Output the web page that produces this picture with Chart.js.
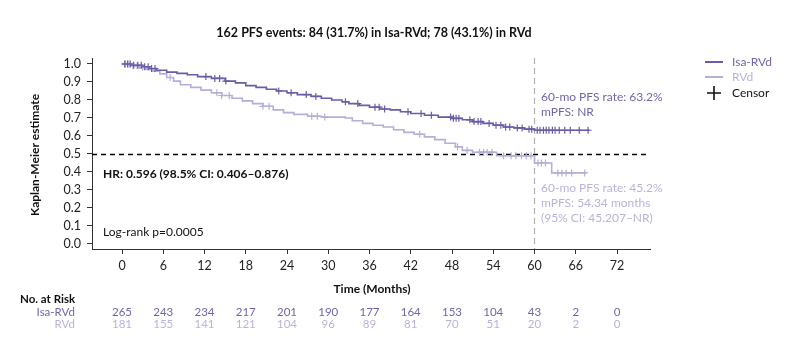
<!DOCTYPE html>
<html>
<head>
<meta charset="utf-8">
<script src="https://cdn.jsdelivr.net/npm/chart.js@4.4.1/dist/chart.umd.min.js"></script>
<style>
  body { margin: 0; background: #fff; }
  .wrap { width: 800px; height: 354px; }
</style>
</head>
<body>
<div class="wrap"><canvas id="kmChart" width="800" height="354"></canvas></div>
<script>
// axis ticks
const monthTicks = [0, 6, 12, 18, 24, 30, 36, 42, 48, 54, 60, 66, 72];
const survTicks = [0, 0.1, 0.2, 0.3, 0.4, 0.5, 0.6, 0.7, 0.8, 0.9, 1.0];

// KM steps (time in months, survival after the drop)
const isaTimes = [0, 1.5, 3, 4, 5, 6.5, 8, 9.5, 11, 13, 15, 16.5, 18, 19.5, 21, 22.5, 24, 25.5, 27.5, 29, 30.5, 32, 33, 34.5, 36, 37.5, 39, 40.5, 42, 44, 46, 48, 49.5, 51, 52.5, 54, 55.5, 57, 58.5, 60, 68];
const isaSurv  = [1.0, 0.993, 0.985, 0.975, 0.965, 0.955, 0.948, 0.94, 0.93, 0.92, 0.905, 0.895, 0.88, 0.87, 0.86, 0.85, 0.84, 0.83, 0.82, 0.81, 0.80, 0.79, 0.78, 0.77, 0.76, 0.75, 0.745, 0.735, 0.725, 0.715, 0.705, 0.698, 0.69, 0.68, 0.67, 0.66, 0.65, 0.645, 0.638, 0.632, 0.632];

const rvdTimes = [0, 1.5, 2.5, 3.5, 4.5, 5.5, 6.5, 7.5, 8.5, 10, 11.5, 13, 14.5, 16, 17.5, 19, 20.5, 22, 23.5, 25, 27, 29, 32.5, 33.5, 35, 36.5, 38, 39.5, 41, 42.5, 44, 45.5, 47, 48.5, 49.5, 51, 54.5, 60, 62.5, 67.5];
const rvdSurv  = [1.0, 0.99, 0.98, 0.97, 0.96, 0.945, 0.925, 0.905, 0.885, 0.87, 0.855, 0.84, 0.825, 0.81, 0.795, 0.78, 0.765, 0.745, 0.73, 0.72, 0.71, 0.705, 0.70, 0.685, 0.67, 0.66, 0.65, 0.635, 0.62, 0.61, 0.595, 0.58, 0.56, 0.54, 0.52, 0.51, 0.49, 0.45, 0.395, 0.395];

// censor times
const isaCensor = [0.4, 0.8, 1.2, 1.7, 2.3, 2.8, 3.3, 3.8, 4.3, 4.8, 12.2, 13.5, 14.2, 15.1, 22.8, 24.6, 26.8, 28.2, 32.5, 34.3, 36.8, 37.4, 38.2, 41.6, 43.5, 45.0, 47.8, 48.2, 48.6, 49.0, 50.6, 51.2, 51.8, 52.2, 53.4, 54.4, 55.1, 55.8, 56.4, 57.5, 58.2, 59.2, 59.6, 60.4, 60.8, 61.3, 61.7, 62.1, 62.6, 63.0, 63.6, 64.4, 65.2, 66.5, 67.8];
const rvdCensor = [0.5, 1.0, 1.6, 2.2, 3.0, 7.0, 13.8, 14.5, 15.6, 20.5, 21.4, 27.6, 28.4, 29.5, 43.3, 48.8, 50.2, 52.0, 52.6, 53.1, 53.8, 55.5, 56.6, 57.3, 58.1, 58.8, 59.5, 60.5, 61.0, 61.6, 63.4, 64.0, 64.6, 65.4, 67.3];

// numbers at risk
const riskIsa = [265, 243, 234, 217, 201, 190, 177, 164, 153, 104, 43, 2, 0];
const riskRvd = [181, 155, 141, 121, 104, 96, 89, 81, 70, 51, 20, 2, 0];

const darkColor = "#675ea6";
const lightColor = "#b4aed8";
const darkText = "#6f67aa";
const lightText = "#b9b3da";
const FONT = "Lato";

function survAt(times, surv, t) {
  let s = surv[0];
  for (let i = 0; i < times.length; i++) {
    if (times[i] <= t) s = surv[i];
  }
  return s;
}

function toPoints(times, surv) {
  return times.map((t, i) => ({ x: t, y: surv[i] }));
}

function censorPoints(cens, times, surv) {
  return cens.map((t) => ({ x: t, y: survAt(times, surv, t) }));
}

// dashed reference lines
const refLines = {
  id: "refLines",
  beforeDatasetsDraw(chart) {
    const { ctx, chartArea, scales } = chart;
    ctx.save();
    ctx.lineWidth = 1.3;
    ctx.setLineDash([5, 4]);
    ctx.strokeStyle = "#000";
    let y = Math.round(scales.y.getPixelForValue(0.5)) + 0.5;
    ctx.beginPath();
    ctx.moveTo(chartArea.left, y);
    ctx.lineTo(chartArea.right, y);
    ctx.stroke();

    ctx.lineWidth = 1.2;
    ctx.strokeStyle = "#b0b0b0";
    ctx.setLineDash([6, 4]);
    let x = scales.x.getPixelForValue(60);
    ctx.beginPath();
    ctx.moveTo(x, chartArea.top);
    ctx.lineTo(x, chartArea.bottom);
    ctx.stroke();
    ctx.restore();
  }
};

// titles, notes, legend and the at-risk table
const textLayer = {
  id: "textLayer",
  afterDraw(chart) {
    const { ctx, scales } = chart;
    ctx.save();
    ctx.textBaseline = "middle";

    ctx.fillStyle = "#111";
    ctx.font = "bold 12.5px " + FONT;
    ctx.textAlign = "center";
    ctx.fillText("162 PFS events: 84 (31.7%) in Isa-RVd; 78 (43.1%) in RVd", 374, 33);
    ctx.font = "bold 12px " + FONT;
    ctx.fillText("Time (Months)", 372, 289);

    ctx.save();
    ctx.translate(35, 155);
    ctx.rotate(-Math.PI / 2);
    ctx.fillText("Kaplan-Meier estimate", 0, 0);
    ctx.restore();

    ctx.textAlign = "left";
    ctx.fillText("HR: 0.596 (98.5% CI: 0.406\u20130.876)", 103, 174);
    ctx.font = "12px " + FONT;
    ctx.fillText("Log-rank p=0.0005", 103, 232);

    // notes next to the 60 month line
    ctx.fillStyle = darkText;
    ctx.fillText("60-mo PFS rate: 63.2%", 541, 97);
    ctx.fillText("mPFS: NR", 541, 112);
    ctx.fillStyle = lightText;
    ctx.fillText("60-mo PFS rate: 45.2%", 541, 188);
    ctx.fillText("mPFS: 54.34 months", 541, 203);
    ctx.fillText("(95% CI: 45.207\u2013NR)", 541, 218);

    // legend
    ctx.lineWidth = 2;
    ctx.strokeStyle = darkColor;
    ctx.beginPath(); ctx.moveTo(705, 62); ctx.lineTo(723, 62); ctx.stroke();
    ctx.strokeStyle = lightColor;
    ctx.beginPath(); ctx.moveTo(705, 77); ctx.lineTo(723, 77); ctx.stroke();
    ctx.strokeStyle = "#111";
    ctx.lineWidth = 1.6;
    ctx.beginPath();
    ctx.moveTo(707, 93); ctx.lineTo(721, 93);
    ctx.moveTo(714, 86); ctx.lineTo(714, 100);
    ctx.stroke();
    ctx.fillStyle = darkText;
    ctx.fillText("Isa-RVd", 732, 62);
    ctx.fillStyle = lightText;
    ctx.fillText("RVd", 732, 77);
    ctx.fillStyle = "#111";
    ctx.fillText("Censor", 732, 93);

    // at-risk table
    ctx.font = "bold 11.5px " + FONT;
    ctx.fillText("No. at Risk", 20, 299);
    ctx.font = "11.5px " + FONT;
    ctx.textAlign = "right";
    ctx.fillStyle = darkText;
    ctx.fillText("Isa-RVd", 75, 312);
    ctx.fillStyle = lightText;
    ctx.fillText("RVd", 75, 324);
    ctx.textAlign = "center";
    monthTicks.forEach((m, i) => {
      let x = scales.x.getPixelForValue(m);
      ctx.fillStyle = darkText;
      ctx.fillText(String(riskIsa[i]), x, 312);
      ctx.fillStyle = lightText;
      ctx.fillText(String(riskRvd[i]), x, 324);
    });
    ctx.restore();
  }
};

const ctx = document.getElementById("kmChart");

new Chart(ctx, {
  type: "scatter",
  data: {
    datasets: [
      {
        label: "Isa-RVd",
        data: toPoints(isaTimes, isaSurv),
        showLine: true,
        stepped: true,
        borderColor: darkColor,
        borderWidth: 1.6,
        pointRadius: 0,
        order: 2
      },
      {
        label: "RVd",
        data: toPoints(rvdTimes, rvdSurv),
        showLine: true,
        stepped: true,
        borderColor: lightColor,
        borderWidth: 1.6,
        pointRadius: 0,
        order: 3
      },
      {
        label: "Isa-RVd censor",
        data: censorPoints(isaCensor, isaTimes, isaSurv),
        pointStyle: "cross",
        pointRadius: 3.5,
        borderColor: darkColor,
        borderWidth: 1.2,
        order: 0
      },
      {
        label: "RVd censor",
        data: censorPoints(rvdCensor, rvdTimes, rvdSurv),
        pointStyle: "cross",
        pointRadius: 3.5,
        borderColor: lightColor,
        borderWidth: 1.2,
        order: 1
      }
    ]
  },
  options: {
    responsive: false,
    animation: false,
    layout: { padding: { left: 0, right: 150, top: 58, bottom: 0 } },
    plugins: {
      legend: { display: false },
      tooltip: { enabled: false }
    },
    scales: {
      x: {
        type: "linear",
        min: -4.364,
        max: 76.8,
        afterBuildTicks: (scale) => { scale.ticks = monthTicks.map((v) => ({ value: v })); },
        afterFit: (scale) => { scale.height = 105; },
        ticks: {
          color: "#222",
          font: { family: FONT, size: 12.5 },
          padding: 4,
          maxRotation: 0
        },
        grid: { drawOnChartArea: false, drawTicks: true, tickLength: 5, color: "#333" },
        border: { color: "#333", width: 1 }
      },
      y: {
        type: "linear",
        min: -0.0278,
        max: 1.0333,
        afterBuildTicks: (scale) => { scale.ticks = survTicks.map((v) => ({ value: v })); },
        afterFit: (scale) => { scale.width = 92; },
        ticks: {
          color: "#222",
          font: { family: FONT, size: 12.5 },
          padding: 6,
          callback: (v) => Number(v).toFixed(1)
        },
        grid: { drawOnChartArea: false, drawTicks: true, tickLength: 5, color: "#333" },
        border: { color: "#333", width: 1 }
      }
    }
  },
  plugins: [refLines, textLayer]
});
</script>
</body>
</html>
